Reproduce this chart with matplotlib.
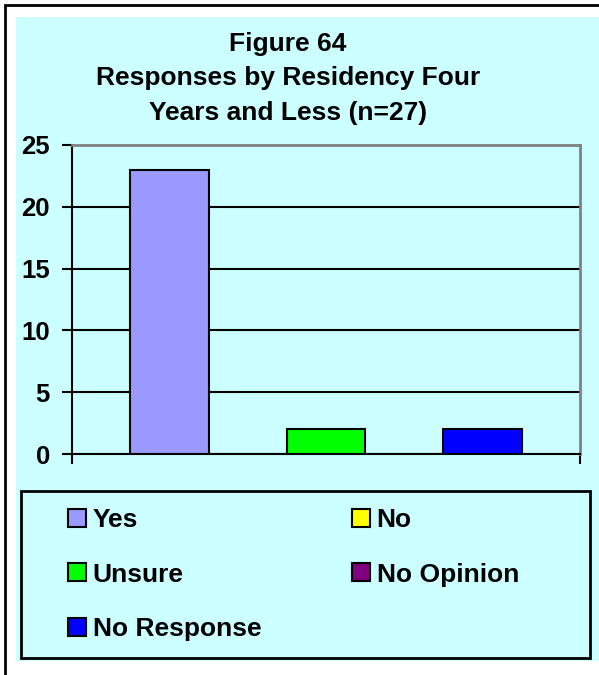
import matplotlib.pyplot as plt
from matplotlib.patches import Rectangle, Patch

plt.rcParams['font.family'] = ['Liberation Sans', 'DejaVu Sans']
plt.rcParams['font.weight'] = 'bold'

# data
labels = ['Yes', 'No', 'Unsure', 'No Opinion', 'No Response']
values = [23, 0, 2, 0, 2]
colors = ['#9999FF', '#FFFF00', '#00FF00', '#800080', '#0000FF']
yticks = [0, 5, 10, 15, 20, 25]

W, H = 599, 675
fig = plt.figure(figsize=(W / 100, H / 100), dpi=100)
fig.patch.set_facecolor('white')


def px(x0, y0, x1, y1):
    # pixel box (top-left origin) -> figure fraction rect
    return (x0 / W, 1 - y1 / H), (x1 - x0) / W, (y1 - y0) / H


# outer frame (runs off the right/bottom edge) and cyan chart area
xy, w, h = px(4.5, 4.5, 640, 700)
fig.patches.append(Rectangle(xy, w, h, transform=fig.transFigure, facecolor='none',
                             edgecolor='black', linewidth=2, zorder=-2))
xy, w, h = px(16, 17, 599, 661)
fig.patches.append(Rectangle(xy, w, h, transform=fig.transFigure, facecolor='#CCFFFF',
                             edgecolor='none', zorder=-1))

ax = fig.add_axes([72 / W, (H - 454) / H, 508 / W, 309 / H])
ax.set_facecolor('#CCFFFF')
x = list(range(len(values)))
ax.bar(x, values, width=1.0, color=colors, edgecolor='black', linewidth=1.5, zorder=3)

ax.set_ylim(0, 25)
ax.set_xlim(-1.244, 5.244)
ax.set_yticks(yticks)
ax.set_yticklabels([str(t) for t in yticks], fontsize=18.5, fontweight='bold')
ax.set_xticks([-1.244, 5.244])
ax.set_xticklabels(['', ''])
ax.tick_params(axis='both', direction='out', length=7, width=1.5, color='black')
ax.tick_params(axis='y', pad=9)
for t in [5, 10, 15, 20]:
    ax.axhline(t, color='black', linewidth=1.5, zorder=1)
for s in ['left', 'bottom']:
    ax.spines[s].set_linewidth(1.5)
for s in ['top', 'right']:
    ax.spines[s].set_color('#808080')
    ax.spines[s].set_linewidth(2)

fig.text(288 / W, 1 - 78.5 / H, 'Figure 64\nResponses by Residency Four\nYears and Less (n=27)',
         ha='center', va='center', fontsize=19, fontweight='bold', linespacing=1.56)

# legend frame
xy, w, h = px(21, 491, 590, 658)
fig.patches.append(Rectangle(xy, w, h, transform=fig.transFigure, facecolor='#CCFFFF',
                             edgecolor='black', linewidth=2, zorder=0))

# legend entries, row-wise: Yes, No / Unsure, No Opinion / No Response
handles = [Patch(facecolor=c, edgecolor='black', linewidth=1.5) for c in colors]
order = [0, 2, 4, 1, 3]
leg = fig.legend([handles[i] for i in order], [labels[i] for i in order], ncol=2,
                 loc='upper left', bbox_to_anchor=(68 / W, 1 - 515 / H, (519 - 68) / W, 0.01),
                 mode='expand', borderaxespad=0, borderpad=0, frameon=False, fontsize=19,
                 handlelength=0.68, handleheight=0.68, handletextpad=0.25,
                 labelspacing=1.15)
for t in leg.get_texts():
    t.set_fontweight('bold')

fig.savefig('out.png', dpi=100)
